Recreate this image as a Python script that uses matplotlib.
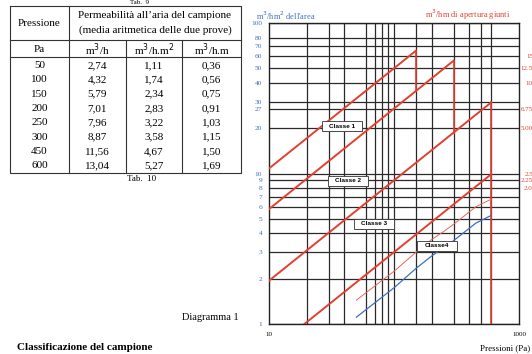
import matplotlib
matplotlib.use("Agg")
import matplotlib.pyplot as plt
from matplotlib.ticker import FixedLocator, NullFormatter

plt.rcParams['font.family'] = ['Liberation Serif', 'DejaVu Serif']

# Tab. 10 - permeabilita' all'aria del campione
pressioni = [50, 100, 150, 200, 250, 300, 450, 600]
m3_h = [2.74, 4.32, 5.79, 7.01, 7.96, 8.87, 11.56, 13.04]
m3_hm2 = [1.11, 1.74, 2.34, 2.83, 3.22, 3.58, 4.67, 5.27]
m3_hm = [0.36, 0.56, 0.75, 0.91, 1.03, 1.15, 1.50, 1.69]

# Diagramma 1 - limiti delle classi
classi = ["Classe 1", "Classe 2", "Classe 3", "Classe4"]
classe_p0 = [10, 10, 10, 19.2]
classe_q0 = [10.8, 5.8, 1.94, 1.0]
classe_p1 = [150, 300, 600, 600]
classe_q1 = [65.5, 56.2, 29.7, 9.9]
classe_q_fondo = [35.4, 18.7, 1.0, None]

griglia_x = [20, 30, 40, 60, 70, 80, 90, 100, 150, 200, 300, 400, 500, 600]
tick_x = [10, 1000]
tick_y = [1, 2, 3, 4, 5, 6, 7, 8, 9, 10, 20, 27, 30, 40, 50, 60, 70, 80, 100]
tick_dx = [15, 12.5, 10, 6.75, 5, 2.5, 2.25, 2]
etich_dx = ["15", "12.5", "10", "6.75", "5.00", "2.5", "2.25", "2.0"]

ROSSO = '#e2402f'
BLU = '#3f6fbf'
W, H = 532, 354

fig = plt.figure(figsize=(W / 100, H / 100), dpi=100)

# ---- diagramma
ax = fig.add_axes([269 / W, 1 - 324 / H, 250 / W, 301 / H])
ax.set_xscale('log')
ax.set_yscale('log')
ax.set_xlim(10, 1000)
ax.set_ylim(1, 100)

ax.xaxis.set_major_locator(FixedLocator(tick_x))
ax.xaxis.set_minor_locator(FixedLocator(griglia_x))
ax.xaxis.set_major_formatter(plt.FuncFormatter(lambda v, _: f"{v:g}"))
ax.xaxis.set_minor_formatter(NullFormatter())
ax.yaxis.set_major_locator(FixedLocator(tick_y))
ax.yaxis.set_minor_locator(FixedLocator([]))
ax.yaxis.set_major_formatter(plt.FuncFormatter(lambda v, _: f"{v:g}"))
ax.tick_params(axis='both', which='both', length=0)
ax.tick_params(axis='x', labelsize=5, pad=6)
ax.tick_params(axis='y', labelsize=5.3, labelcolor=BLU, pad=5)
ax.grid(True, which='major', axis='y', color='#2a2a2a', lw=0.9)
ax.grid(True, which='minor', axis='x', color='#2a2a2a', lw=0.9)
for s in ax.spines.values():
    s.set_color('#222222')
    s.set_linewidth(1.0)

for p0, q0, p1, q1, qf in zip(classe_p0, classe_q0, classe_p1, classe_q1, classe_q_fondo):
    ax.plot([p0, p1], [q0, q1], color=ROSSO, lw=1.4, zorder=4)
    if qf is not None:
        ax.plot([p1, p1], [q1, qf], color=ROSSO, lw=1.2, zorder=4)

ax.plot(pressioni, m3_hm2, color=BLU, lw=0.9, zorder=5)

ax2 = ax.twinx()
ax2.set_yscale('log')
ax2.set_ylim(0.25, 25)
ax2.yaxis.set_major_locator(FixedLocator(tick_dx))
ax2.yaxis.set_minor_locator(FixedLocator([]))
ax2.set_yticklabels(etich_dx)
ax2.tick_params(axis='y', length=0, labelsize=5, labelcolor=ROSSO, pad=10)
for t in ax2.get_yticklabels():
    t.set_horizontalalignment('right')
ax2.plot(pressioni, m3_hm, color='#e06a5a', lw=0.7, zorder=5)
for s in ax2.spines.values():
    s.set_visible(False)

fig.text(256 / W, 1 - 16 / H, "m$^3$/hm$^2$ dell'area", color=BLU, fontsize=6,
         ha='left', va='center')
fig.text(425 / W, 1 - 15 / H, "m$^3$/hm di apertura giunti", color=ROSSO, fontsize=6,
         ha='left', va='center')
fig.text(530 / W, 1 - 348 / H, "Pressioni (Pa)", fontsize=6.5, ha='right', va='center')

# ---- livello sopra (tabella, etichette, testi della pagina)
ov = fig.add_axes([0, 0, 1, 1])
ov.set_xlim(0, W)
ov.set_ylim(H, 0)
ov.axis('off')

box_pos = [(341.7, 126), (348, 181), (374, 223.5), (436.7, 245.7)]
for nome, (bx, by) in zip(classi, box_pos):
    ov.add_patch(plt.Rectangle((bx - 19, by - 4), 40, 10, fc='#9a9a9a', ec='none', zorder=5))
    ov.add_patch(plt.Rectangle((bx - 20, by - 5), 40, 10, fc='white', ec='#333333',
                               lw=0.6, zorder=6))
    ov.text(bx, by, nome, fontsize=4.6, fontweight='bold', family='Liberation Sans',
            ha='center', va='center', zorder=7)

# tabella
tx0, tx1 = 10, 241
ty0, ty1 = 6, 173
col = [10, 69, 126, 182, 241]
riga_h1, riga_h2 = 40, 57
lk = dict(color='#333333', lw=0.8)
ov.plot([tx0, tx1, tx1, tx0, tx0], [ty0, ty0, ty1, ty1, ty0], **lk)
ov.plot([tx0, tx1], [riga_h1, riga_h1], **lk)
ov.plot([tx0, tx1], [riga_h2, riga_h2], **lk)
ov.plot([col[1], col[1]], [ty0, ty1], **lk)
for c in col[2:4]:
    ov.plot([c, c], [riga_h1, ty1], **lk)

fs = 8
cx = [(col[i] + col[i + 1]) / 2 for i in range(4)]
ov.text(cx[0], 24, "Pressione", fontsize=fs, ha='center', va='center')
ov.text(155, 16, "Permeabilità all\u2019aria del campione", fontsize=fs, ha='center', va='center')
ov.text(155, 30, "(media aritmetica delle due prove)", fontsize=fs, ha='center', va='center')
intest = ["Pa", "m$^3$/h", "m$^3$/h.m$^2$", "m$^3$/h.m"]
for x, t in zip(cx, intest):
    ov.text(x, 50, t, fontsize=fs, ha='center', va='center')

def virgola(v):
    return f"{v:.2f}".replace('.', ',')

for i, (p, a, b, c) in enumerate(zip(pressioni, m3_h, m3_hm2, m3_hm)):
    y = 65.7 + i * 14.29
    for x, t in zip(cx, [str(p), virgola(a), virgola(b), virgola(c)]):
        ov.text(x, y, t, fontsize=fs, ha='center', va='center')

ov.text(142, 179, "Tab.  10", fontsize=6.5, ha='center', va='center')
ov.text(140, 2.5, "Tab.  9", fontsize=5, ha='center', va='center')
ov.text(210, 318, "Diagramma 1", fontsize=7.5, ha='center', va='center')
ov.text(17, 347, "Classificazione del campione", fontsize=8, fontweight='bold',
        ha='left', va='center')

fig.savefig('out.png', dpi=100)
